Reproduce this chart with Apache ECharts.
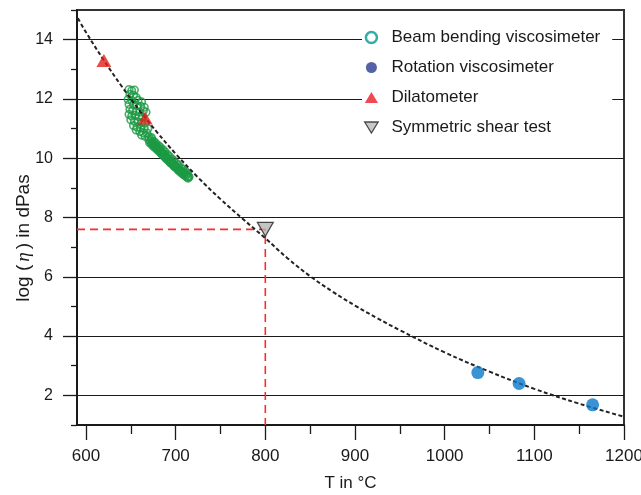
<!DOCTYPE html>
<html><head><meta charset="utf-8">
<script src="https://cdn.jsdelivr.net/npm/echarts@6/dist/echarts.min.js"></script>
<style>html,body{margin:0;padding:0;background:#fff}#c{width:641px;height:495px}</style>
</head><body><div id="c"></div>
<script>
// ---- data ----
const beamT = [648,651,654,649,653,656,647,651,658,662,648,653,657,661,665,649,652,656,660,664,667,648,651,655,659,663,650,654,658,662,666,653,657,661,665,669,656,660,664,668,662,666,670,673,
  670,672,674,675,677,679,680,682,684,685,687,689,690,692,694,695,697,699,700,702,704,705,707,709,710,712,714,715,
  673,678,683,688,693,698,703,708,713,
  671,674,676,679,681,684,686,689,691,694,696,699,701,704,706,709,711,714,
  673,676,678,681,683,686,688,691,693,696,698,701,703,706,708,711,713];
const beamLog = [12.32,12.28,12.3,12.15,12.12,12.05,11.98,11.95,11.95,11.9,11.82,11.8,11.78,11.75,11.72,11.65,11.6,11.58,11.55,11.6,11.55,11.48,11.42,11.45,11.4,11.38,11.3,11.25,11.22,11.2,11.18,11.1,11.05,11.02,11.0,11.0,10.95,10.9,10.86,10.85,10.78,10.74,10.72,10.7,
  10.62,10.58,10.55,10.48,10.45,10.4,10.34,10.3,10.24,10.19,10.14,10.08,10.03,9.98,9.92,9.88,9.82,9.77,9.73,9.68,9.63,9.59,9.55,9.51,9.48,9.44,9.4,9.37,
  10.5,10.35,10.2,10.05,9.9,9.74,9.6,9.47,9.36,
  10.52,10.44,10.38,10.3,10.24,10.15,10.09,10.0,9.94,9.85,9.8,9.71,9.66,9.57,9.52,9.45,9.4,9.33,
  10.65,10.56,10.5,10.42,10.36,10.28,10.22,10.12,10.06,9.97,9.91,9.82,9.76,9.68,9.62,9.55,9.49];
const rotT = [1037, 1083, 1165];
const rotLog = [2.77, 2.4, 1.68];
const dilT = [620, 666];
const dilLog = [13.3, 11.36];
const shearT = [800];
const shearLog = [7.6];
const fitT = [591,600,620,640,660,680,700,725,750,775,800,825,850,875,900,925,950,1000,1050,1100,1150,1200];
const fitLog = [14.72,14.25,13.3,12.42,11.6,10.85,10.15,9.35,8.62,7.95,7.3,6.62,6.02,5.5,5.03,4.6,4.2,3.45,2.8,2.22,1.72,1.28];
const refT = [590, 800, 800];
const refLog = [7.6, 7.6, 1];
const xMajor = [600,700,800,900,1000,1100,1200];
const xMinor = [650,750,850,950,1050,1150];
const yMajor = [2,4,6,8,10,12,14];
const yMinor = [1,3,5,7,9,11,13,15];
const names = ['Beam bending viscosimeter','Rotation viscosimeter','Dilatometer','Symmetric shear test'];

const zip = (a,b) => a.map((v,i)=>[v,b[i]]);
const FONT = 'Liberation Sans';
const ink = '#1a1a1a';
const triDown = 'path://M0,0L16,0L8,13Z';
const triUp = 'path://M6,0L12,10L0,10Z';

const chart = echarts.init(document.getElementById('c'), null, {renderer:'canvas'});
chart.setOption({
  animation: false,
  backgroundColor: '#fff',
  textStyle: {fontFamily: FONT, color: ink},
  grid: {left: 77, right: 17, top: 10, bottom: 70, outerBoundsMode: 'none', containLabel: false,
         show: true, borderColor: '#333', borderWidth: 2, backgroundColor: 'transparent'},
  legend: {
    orient: 'vertical', left: 362, top: 24,
    padding: [5, 12, 5, 2],
    backgroundColor: '#fff',
    itemWidth: 30, itemHeight: 11, itemGap: 13,
    textStyle: {fontFamily: FONT, fontSize: 17, color: ink},
    data: [
      {name: names[0], icon: 'circle', itemStyle: {color: '#fff', borderColor: '#00998f', borderWidth: 2.5}},
      {name: names[1], icon: 'circle', itemStyle: {color: '#283c90', borderWidth: 0}},
      {name: names[2], icon: triUp, itemStyle: {color: '#ee1c25', borderWidth: 0}},
      {name: names[3], icon: triDown, itemStyle: {color: '#b9b9b9', borderColor: '#222', borderWidth: 1.3}}
    ]
  },
  xAxis: [{
    type: 'value', min: 590, max: 1200, position: 'bottom',
    name: 'T in °C', nameLocation: 'middle', nameGap: 50, nameMoveOverlap: false,
    nameTextStyle: {fontFamily: FONT, fontSize: 17, color: ink},
    axisLine: {show: true, lineStyle: {color: ink, width: 2}},
    axisTick: {show: true, customValues: xMajor, length: 15, lineStyle: {color: ink, width: 1.3}},
    axisLabel: {customValues: xMajor, formatter: v => String(v), fontFamily: FONT, fontSize: 17, color: ink, margin: 23},
    splitLine: {show: false}
  }, {
    type: 'value', min: 590, max: 1200, position: 'bottom',
    axisLine: {show: false},
    axisTick: {show: true, customValues: xMinor, length: 9, lineStyle: {color: ink, width: 1.3}},
    axisLabel: {show: false}, splitLine: {show: false}
  }],
  yAxis: [{
    type: 'value', min: 1, max: 15, splitNumber: 7, position: 'left',
    name: '{n|log (}{e|η}{n|) in dPas}', nameLocation: 'middle', nameGap: 44, nameRotate: 90, nameMoveOverlap: false,
    nameTextStyle: {padding: [0, 41, 0, 0], rich: {
      n: {fontFamily: FONT, fontSize: 19, color: ink},
      e: {fontFamily: 'Liberation Serif', fontStyle: 'italic', fontSize: 19, color: ink, padding: [0, 3, 0, 3]}
    }},
    axisLine: {show: true, lineStyle: {color: ink, width: 2}},
    axisTick: {show: true, customValues: yMajor, length: 14, lineStyle: {color: ink, width: 1.3}},
    axisLabel: {customValues: yMajor, fontFamily: FONT, fontSize: 16, color: ink, margin: 24},
    splitLine: {show: true, lineStyle: {color: ink, width: 1.2}}
  }, {
    type: 'value', min: 1, max: 15, position: 'left',
    axisLine: {show: false},
    axisTick: {show: true, customValues: yMinor, length: 6, lineStyle: {color: ink, width: 1.3}},
    axisLabel: {show: false}, splitLine: {show: false}
  }],
  series: [
    {name: 'ref', type: 'line', data: zip(refT, refLog), symbol: 'none', silent: true, z: 1,
     lineStyle: {color: '#ff2a2a', width: 1.6, type: [8, 5]}},
    {name: names[0], type: 'scatter', data: zip(beamT, beamLog), symbol: 'circle', symbolSize: 7.5, z: 2,
     itemStyle: {color: 'rgba(255,255,255,0)', borderColor: '#1c9a44', borderWidth: 1.6}},
    {name: 'fit', type: 'line', data: zip(fitT, fitLog), smooth: 0.4, symbol: 'none', silent: true, z: 3,
     lineStyle: {color: '#222', width: 2, type: [4, 2.5]}},
    {name: names[2], type: 'scatter', data: zip(dilT, dilLog), symbol: 'triangle', symbolSize: [15, 13], z: 4,
     itemStyle: {color: '#e3211c'}},
    {name: names[1], type: 'scatter', data: zip(rotT, rotLog), symbol: 'circle', symbolSize: 13, z: 4,
     itemStyle: {color: '#0a78c8'}},
    {name: names[3], type: 'scatter', data: zip(shearT, shearLog), symbol: triDown, symbolSize: [16, 14], z: 5,
     itemStyle: {color: '#b5b5b5', borderColor: '#222', borderWidth: 1.2}}
  ]
});
</script>
</body></html>
